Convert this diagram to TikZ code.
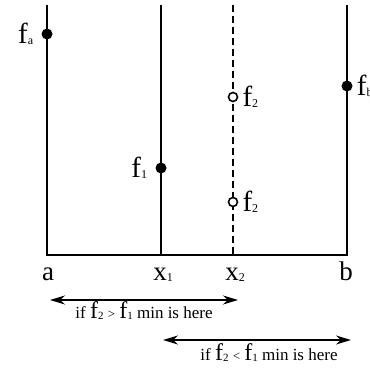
\documentclass[tikz,border=0pt]{standalone}
\usepackage{fontspec}
\setmainfont{Liberation Serif}
\usetikzlibrary{positioning,arrows.meta}
\newcommand{\subsz}[2]{\raisebox{-1.5pt}{\fontsize{#1}{#1}\selectfont #2}}
\newcommand{\fval}[1]{\fontsize{29}{31}\selectfont f\subsz{12}{#1}}
\newcommand{\fsmall}[1]{{\fontsize{24}{26}\selectfont f}\subsz{11}{#1}}
\tikzset{
  axis/.style={line width=2pt},
  probe/.style={line width=2pt,dash pattern=on 7pt off 4pt},
  dot/.style={circle,fill,inner sep=0pt,minimum size=11pt},
  hollow/.style={circle,draw,fill=white,line width=1.6pt,inner sep=0pt,minimum size=9pt},
  vlabel/.style={inner sep=1pt},
  xlabel/.style={font=\fontsize{27}{29}\selectfont,inner sep=0pt,anchor=base},
  minspan/.style={line width=1.5pt,{Stealth[length=15pt,width=9pt]}-{Stealth[length=15pt,width=9pt]}},
  spantext/.style={font=\fontsize{17}{19}\selectfont,inner sep=0pt,anchor=base}
}
\begin{document}
\begin{tikzpicture}[x=1pt,y=-1pt]
    \useasboundingbox (0,0) rectangle (370,369);

    % assi verticali e base
    \coordinate (atop) at (47,5);
    \coordinate (abot) at (47,255);
    \coordinate (onetop) at (161,5);
    \coordinate (onebot) at (161,255);
    \coordinate (twotop) at (233,5);
    \coordinate (twobot) at (233,255);
    \coordinate (btop) at (347,5);
    \coordinate (bbot) at (347,255);
    \draw[axis] (atop) -- (abot) -- (bbot) -- (btop);
    \draw[axis] (onetop) -- (onebot);
    \draw[probe] (twotop) -- (twobot);

    % valori della funzione
    \node[dot] (fa) at (47,34) {};
    \node[dot] (fone) at (161,168) {};
    \node[dot] (fb) at (347,86) {};
    \node[hollow] (ftwohi) at (233,97) {};
    \node[hollow] (ftwolo) at (233,202) {};
    \node[vlabel,left=7pt of fa] {\fval{a}};
    \node[vlabel,left=7pt of fone] {\fval{1}};
    \node[vlabel,right=3pt of fb] {\fval{b}};
    \node[vlabel,right=3pt of ftwohi] {\fval{2}};
    \node[vlabel,right=3pt of ftwolo] {\fval{2}};

    % etichette sull'asse
    \node[xlabel] (la) at (48,280) {a};
    \node[xlabel] (lone) at (163,280) {x\subsz{12}{1}};
    \node[xlabel] (ltwo) at (235,280) {x\subsz{12}{2}};
    \node[xlabel] (lb) at (346,280) {b};

    % intervalli del minimo
    \coordinate (lowl) at (50,300);
    \coordinate (lowr) at (238,300);
    \coordinate (upl) at (163,340);
    \coordinate (upr) at (351,340);
    \draw[minspan] (lowl) -- (lowr);
    \draw[minspan] (upl) -- (upr);
    \node[spantext] (tlow) at (144,318) {if \fsmall{2} {\fontsize{13}{14}\selectfont >} \fsmall{1} min is here};
    \node[spantext] (tup) at (269,360) {if \fsmall{2} {\fontsize{13}{14}\selectfont <} \fsmall{1} min is here};
\end{tikzpicture}
\end{document}
